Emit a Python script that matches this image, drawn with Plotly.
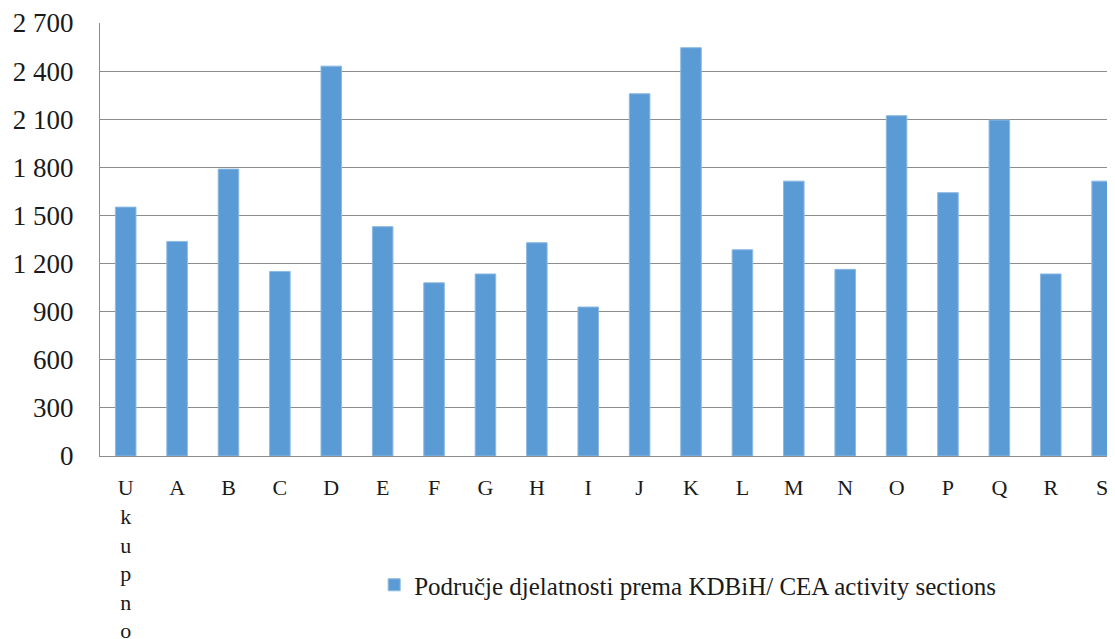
import plotly.graph_objects as go

categories = ["U<br>k<br>u<br>p<br>n<br>o", "A", "B", "C", "D", "E", "F", "G", "H", "I",
              "J", "K", "L", "M", "N", "O", "P", "Q", "R", "S"]
values = [1552, 1338, 1789, 1151, 2431, 1430, 1080, 1135, 1330, 929,
          2259, 2546, 1286, 1714, 1164, 2122, 1642, 2095, 1135, 1714]
series_name = "Područje djelatnosti prema KDBiH/ CEA activity sections"
y_tickvals = [0, 300, 600, 900, 1200, 1500, 1800, 2100, 2400, 2700]
y_ticktext = ["0", "300", "600", "900", "1 200", "1 500", "1 800", "2 100", "2 400", "2 700"]

FONT = "Liberation Serif, serif"
x_idx = list(range(len(categories)))

fig = go.Figure()
fig.add_trace(go.Bar(
    x=x_idx, y=values, name=series_name,
    width=0.4,
    marker=dict(color="#5B9BD5", line=dict(color="#8DB9E2", width=1)),
    showlegend=True,
))

# page body has an 8px default margin, so the figure is sized to fit the window
fig.update_layout(
    width=1107, height=631,
    margin=dict(l=92, r=0, t=15, b=183),
    paper_bgcolor="white", plot_bgcolor="white",
    font=dict(family=FONT, color="#1a1a1a"),
    showlegend=True,
    legend=dict(
        orientation="h", x=0.579, xanchor="center", y=-0.298, yanchor="middle",
        font=dict(family=FONT, size=25, color="#1a1a1a"),
        itemwidth=30,
    ),
    xaxis=dict(
        tickmode="array", tickvals=x_idx, ticktext=categories,
        range=[-0.5, 19.25],
        showgrid=False, zeroline=False,
        showline=True, linecolor="#8c8c8c", linewidth=1,
        ticks="", tickfont=dict(family=FONT, size=22, color="#1a1a1a"),
        ticklabelstandoff=12,
        tickangle=0, automargin=False,
    ),
    yaxis=dict(
        range=[0, 2700],
        tickmode="array", tickvals=y_tickvals, ticktext=y_ticktext,
        showgrid=True, gridcolor="#8c8c8c", gridwidth=1,
        zeroline=False,
        showline=True, linecolor="#8c8c8c", linewidth=1,
        ticks="", tickfont=dict(family=FONT, size=27, color="#1a1a1a"),
        ticklabelstandoff=20, automargin=False,
    ),
)

fig.write_html("out.html")
